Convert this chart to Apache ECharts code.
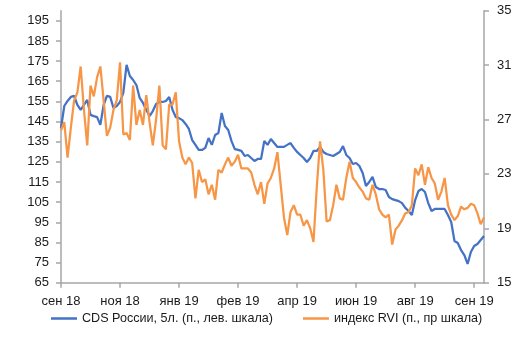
<!DOCTYPE html>
<html>
<head>
<meta charset="utf-8">
<script src="https://cdn.jsdelivr.net/npm/echarts@6/dist/echarts.min.js"></script>
<style>
html,body{margin:0;padding:0;background:#fff;}
#c{width:530px;height:339px;}
</style>
</head>
<body>
<div id="c"></div>
<script>
// Tick labels of the time axis (one every 18 observations)
var tickLabels = ['сен 18','ноя 18','янв 19','фев 19','апр 19','июн 19','авг 19','сен 19'];
var leftTicks = [65,75,85,95,105,115,125,135,145,155,165,175,185,195];
var rightTicks = [15,19,23,27,31,35];

// CDS России, 5л. (п., лев. шкала)
var cds = [
141.8,152.7,155.2,157.2,157.7,153.2,150.8,153.2,155.7,148.3,
147.7,147.2,143.3,153.2,157.7,157.2,151.7,152.7,154.7,159.2,
173.1,167.6,165.6,163.1,156.7,154.2,150.8,147.7,150.2,153.7,
154.7,154.7,155.2,157.2,150.8,147.2,146.7,145.7,143.8,141.3,
135.8,133.4,130.9,130.9,131.9,136.8,133.4,138.3,139.3,149.2,
142.8,140.8,135.3,131.3,130.9,130.4,127.9,128.4,126.9,125.4,
126.4,126.4,135.3,133.4,136.3,134.3,132.4,132.4,132.4,133.4,
134.3,131.9,129.9,128.4,126.9,124.9,126.9,130.4,130.4,132.4,
129.9,128.9,128.4,127.9,128.9,129.9,132.8,128.4,126.9,123.9,
124.4,122.9,119.4,113.0,115.0,117.5,112.5,111.5,111.5,111.0,
107.5,106.5,106.0,105.5,104.5,102.1,100.6,98.6,106.0,110.5,
111.5,110.0,104.5,100.6,101.6,101.6,101.6,101.6,98.6,95.1,
85.7,84.7,81.2,78.7,74.3,80.2,83.2,84.2,86.2,88.2
];

// индекс RVI (п., пр шкала)
var rvi = [
26.2,26.8,24.2,26.4,28.4,29.0,30.9,27.7,25.1,29.5,
28.7,30.1,30.9,28.4,25.8,26.4,27.7,28.4,31.2,25.9,
26.0,25.5,29.5,26.6,27.7,26.6,28.8,26.8,25.1,27.0,
29.5,25.1,24.8,28.1,28.1,29.0,25.4,24.2,23.7,24.2,
23.8,21.2,23.3,22.4,22.6,21.5,22.2,21.1,23.3,23.1,
23.7,24.2,23.6,23.9,24.4,23.4,23.4,23.4,23.1,22.2,
21.5,22.4,20.8,22.3,22.7,23.4,24.6,22.2,19.8,18.5,
20.2,20.7,20.0,20.0,19.2,19.6,19.0,18.0,22.0,25.4,
23.3,19.5,19.6,20.7,22.2,21.2,21.1,22.7,23.9,22.7,
22.4,22.0,21.7,21.2,21.1,22.2,21.5,20.4,20.0,19.8,
20.0,17.8,18.9,19.2,19.6,20.1,20.2,20.7,23.4,22.9,
23.7,22.2,23.5,22.7,22.3,21.1,21.7,22.7,20.7,20.0,
19.6,19.9,20.6,20.4,20.5,20.8,20.7,20.1,19.3,19.8
];

var step = 18;
var categories = cds.map(function(_, i){
  return (i % step === 0 && tickLabels[i/step]) ? tickLabels[i/step] : String(i);
});

var font = "'Liberation Sans', Arial, sans-serif";
var axisColor = '#a6a6a6';
var textColor = '#1a1a1a';

var chart = echarts.init(document.getElementById('c'), null, {renderer:'canvas'});
chart.setOption({
  animation: false,
  backgroundColor: '#ffffff',
  grid: {left: 61, right: 46, top: 10.7, bottom: 56.3, containLabel: false},
  legend: {
    left: 51, top: 312, padding: 0,
    itemWidth: 26, itemHeight: 2.5, itemGap: 30, icon: 'rect',
    textStyle: {fontFamily: font, fontSize: 12.6, color: textColor},
    data: ['CDS России, 5л. (п., лев. шкала)', 'индекс RVI (п., пр шкала)']
  },
  xAxis: {
    type: 'category', data: categories, boundaryGap: false,
    axisLine: {lineStyle: {color: axisColor, width: 1.5}},
    axisTick: {show: true, interval: step - 1, length: 5, lineStyle: {color: axisColor, width: 1.5}},
    axisLabel: {interval: step - 1, margin: 12, fontFamily: font, fontSize: 13, color: textColor},
    splitLine: {show: false}
  },
  yAxis: [{
    type: 'value', position: 'left', min: 65, max: 200,
    axisLine: {show: true, lineStyle: {color: axisColor, width: 1.5}},
    axisTick: {show: true, length: 5, customValues: leftTicks, lineStyle: {color: axisColor, width: 1.5}},
    axisLabel: {customValues: leftTicks, margin: 12, fontFamily: font, fontSize: 13, color: textColor},
    splitLine: {show: false}
  }, {
    type: 'value', position: 'right', min: 15, max: 35,
    axisLine: {show: true, lineStyle: {color: axisColor, width: 1.5}},
    axisTick: {show: true, length: 5, customValues: rightTicks, lineStyle: {color: axisColor, width: 1.5}},
    axisLabel: {customValues: rightTicks, margin: 13, fontFamily: font, fontSize: 13, color: textColor},
    splitLine: {show: false}
  }],
  series: [{
    name: 'CDS России, 5л. (п., лев. шкала)', type: 'line', yAxisIndex: 0,
    data: cds, showSymbol: false, symbol: 'none',
    lineStyle: {color: '#4472C4', width: 2.25}, itemStyle: {color: '#4472C4'}, z: 2
  }, {
    name: 'индекс RVI (п., пр шкала)', type: 'line', yAxisIndex: 1,
    data: rvi, showSymbol: false, symbol: 'none',
    lineStyle: {color: '#F79646', width: 2.25}, itemStyle: {color: '#F79646'}, z: 3
  }]
});
</script>
</body>
</html>
